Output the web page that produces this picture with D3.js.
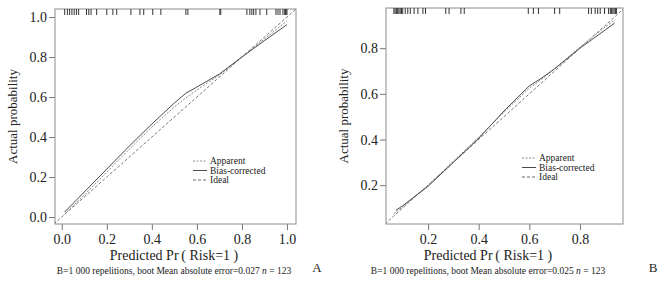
<!DOCTYPE html>
<html>
<head>
<meta charset="utf-8">
<script src="https://cdn.jsdelivr.net/npm/d3@7"></script>
<style>
  body { margin: 0; background: #fff; }
  svg text { font-family: "Liberation Serif", "Times New Roman", serif; fill: #222; }
</style>
</head>
<body>
<div id="chart"></div>
<script>
// rug of predicted values (top of each panel)
const rugA = [0.013, 0.025, 0.035, 0.045, 0.055, 0.065, 0.075, 0.11, 0.12, 0.13, 0.155, 0.2, 0.227, 0.244, 0.307, 0.347, 0.364, 0.404, 0.44, 0.551, 0.56, 0.702, 0.706, 0.822, 0.835, 0.844, 0.852, 0.862, 0.88, 0.91, 0.951, 0.96, 0.969, 0.982, 0.99, 0.993, 0.996, 1.0]
const rugB = [0.065, 0.07, 0.075, 0.08, 0.085, 0.09, 0.095, 0.1, 0.11, 0.12, 0.13, 0.145, 0.16, 0.18, 0.19, 0.27, 0.283, 0.33, 0.343, 0.596, 0.616, 0.636, 0.70, 0.72, 0.834, 0.845, 0.86, 0.87, 0.88, 0.897, 0.913, 0.92, 0.925, 0.93, 0.935, 0.94, 0.944]

// calibration curves [predicted, actual]
const apparentA = [[0.013,0.015],[0.1,0.11],[0.2,0.225],[0.3,0.34],[0.4,0.45],[0.5,0.55],[0.55,0.595],[0.6,0.635],[0.7,0.71],[0.8,0.8],[0.9,0.89],[1.0,0.98]]
const biasA = [[0.013,0.025],[0.1,0.125],[0.2,0.24],[0.3,0.355],[0.4,0.465],[0.5,0.57],[0.55,0.618],[0.6,0.65],[0.7,0.715],[0.8,0.8],[0.9,0.882],[1.0,0.962]]

const apparentB = [[0.065,0.075],[0.1,0.105],[0.2,0.2],[0.3,0.305],[0.4,0.41],[0.5,0.52],[0.6,0.625],[0.65,0.665],[0.7,0.71],[0.8,0.805],[0.9,0.893],[0.94,0.925]]
const biasB = [[0.073,0.09],[0.1,0.11],[0.2,0.195],[0.3,0.3],[0.4,0.405],[0.5,0.525],[0.6,0.635],[0.65,0.67],[0.7,0.71],[0.8,0.8],[0.9,0.88],[0.937,0.91]]

const xTicksA = [0, 0.2, 0.4, 0.6, 0.8, 1.0]
const yTicksA = [0, 0.2, 0.4, 0.6, 0.8, 1.0]
const xTicksB = [0.2, 0.4, 0.6, 0.8]
const yTicksB = [0.2, 0.4, 0.6, 0.8]

const legendLabels = ['Apparent', 'Bias-corrected', 'Ideal']

const W = 662, H = 284
const SERIF = '"Liberation Serif", "Times New Roman", serif'

const svg = d3.select('#chart')
.append('svg')
.attr('width', W)
.attr('height', H)

const lineStyles = {
	Apparent: { stroke: '#8a8a8a', dash: '2,1.5', width: 1 },
	'Bias-corrected': { stroke: '#4a4a4a', dash: null, width: 1 },
	Ideal: { stroke: '#6a6a6a', dash: '3,2', width: 0.9 }
}

const drawPanel = (p) => {

	const g = svg.append('g').attr('font-family', SERIF)

	const x = d3.scaleLinear().domain(p.xDomain).range([p.left, p.right])
	const y = d3.scaleLinear().domain(p.yDomain).range([p.bottom, p.top])

	const clipId = 'clip-' + p.id
	svg.append('clipPath').attr('id', clipId)
	.append('rect')
	.attr('x', p.left).attr('y', p.top)
	.attr('width', p.right - p.left).attr('height', p.bottom - p.top)

	// axes
	const xAxis = d3.axisBottom(x).tickValues(p.xTicks).tickSize(6).tickFormat(d3.format('.1f'))
	const yAxis = d3.axisLeft(y).tickValues(p.yTicks).tickSize(6).tickFormat(d3.format('.1f'))

	const gx = g.append('g').attr('transform', `translate(0,${p.bottom})`).call(xAxis)
	const gy = g.append('g').attr('transform', `translate(${p.left},0)`).call(yAxis)

	;[gx, gy].forEach(a => {
		a.attr('font-family', SERIF)
		a.select('.domain').remove()
		a.selectAll('line').attr('stroke', '#777')
		a.selectAll('text').attr('font-size', '14px').attr('fill', '#222')
	})
	gx.selectAll('text').attr('dy', '0.95em').attr('y', 7)
	gy.selectAll('text').attr('x', -8)

	// box
	g.append('rect')
	.attr('x', p.left).attr('y', p.top)
	.attr('width', p.right - p.left).attr('height', p.bottom - p.top)
	.attr('fill', 'none')
	.attr('stroke', '#8c8c8c')
	.attr('stroke-width', 1)

	const plot = g.append('g').attr('clip-path', `url(#${clipId})`)

	// rug
	plot.selectAll('.rug')
	.data(p.rug)
	.enter()
	.append('line')
	.attr('x1', d => x(d)).attr('x2', d => x(d))
	.attr('y1', p.top).attr('y2', p.top + 6)
	.attr('stroke', '#333')
	.attr('stroke-width', 1)

	const line = d3.line().x(d => x(d[0])).y(d => y(d[1]))

	// ideal
	const lo = Math.min(p.xDomain[0], p.yDomain[0]), hi = Math.max(p.xDomain[1], p.yDomain[1])
	plot.append('path')
	.attr('d', line([[lo, lo], [hi, hi]]))
	.attr('fill', 'none')
	.attr('stroke', lineStyles.Ideal.stroke)
	.attr('stroke-dasharray', lineStyles.Ideal.dash)
	.attr('stroke-width', lineStyles.Ideal.width)

	plot.append('path')
	.attr('d', line(p.apparent))
	.attr('fill', 'none')
	.attr('stroke', lineStyles.Apparent.stroke)
	.attr('stroke-dasharray', lineStyles.Apparent.dash)
	.attr('stroke-width', lineStyles.Apparent.width)

	plot.append('path')
	.attr('d', line(p.bias))
	.attr('fill', 'none')
	.attr('stroke', lineStyles['Bias-corrected'].stroke)
	.attr('stroke-width', lineStyles['Bias-corrected'].width)

	// legend
	const lg = g.append('g').attr('transform', `translate(${p.legendX},${p.legendY})`)
	legendLabels.forEach((d, i) => {
		const s = lineStyles[d]
		lg.append('line')
		.attr('x1', 0).attr('x2', 14)
		.attr('y1', i * 9.5).attr('y2', i * 9.5)
		.attr('stroke', s.stroke)
		.attr('stroke-dasharray', s.dash)
		.attr('stroke-width', 1)
		lg.append('text')
		.attr('x', 17).attr('y', i * 9.5)
		.attr('dy', '0.33em')
		.attr('font-size', '9.5px')
		.text(d)
	})

	// axis titles
	g.append('text')
	.attr('transform', `translate(${p.yTitleX},${(p.top + p.bottom) / 2}) rotate(-90)`)
	.attr('text-anchor', 'middle')
	.attr('dy', '0.35em')
	.attr('font-size', '13px')
	.text('Actual probability')

	g.append('text')
	.attr('x', p.xTitleX).attr('y', 255)
	.attr('text-anchor', 'middle')
	.attr('dy', '0.35em')
	.attr('font-size', '14px')
	.text('Predicted Pr\u2009( Risk=1 )')

	const foot = g.append('text')
	.attr('x', p.xTitleX).attr('y', 271)
	.attr('text-anchor', 'middle')
	.attr('dy', '0.35em')
	.attr('font-family', SERIF)
	.attr('font-size', '9.5px')
	foot.append('tspan').text('B=1 000 repelitions, boot  Mean absolute error=' + p.mae + ' ')
	foot.append('tspan').attr('font-style', 'italic').text('n')
	foot.append('tspan').text(' = 123')

	g.append('text')
	.attr('x', p.letterX).attr('y', 267)
	.attr('text-anchor', 'middle')
	.attr('dy', '0.35em')
	.attr('font-size', '13px')
	.text(p.id)
}

drawPanel({
	id: 'A',
	left: 55, right: 296, top: 9, bottom: 224,
	xDomain: [-0.03, 1.04], yDomain: [-0.035, 1.04],
	xTicks: xTicksA, yTicks: yTicksA,
	rug: rugA, apparent: apparentA, bias: biasA,
	legendX: 193, legendY: 161,
	yTitleX: 12, xTitleX: 174, letterX: 317,
	mae: '0.027'
})

drawPanel({
	id: 'B',
	left: 386, right: 623, top: 8, bottom: 224,
	xDomain: [0.034, 0.97], yDomain: [0.03, 0.976],
	xTicks: xTicksB, yTicks: yTicksB,
	rug: rugB, apparent: apparentB, bias: biasB,
	legendX: 522, legendY: 158,
	yTitleX: 343, xTitleX: 488, letterX: 653,
	mae: '0.025'
})
</script>
</body>
</html>
